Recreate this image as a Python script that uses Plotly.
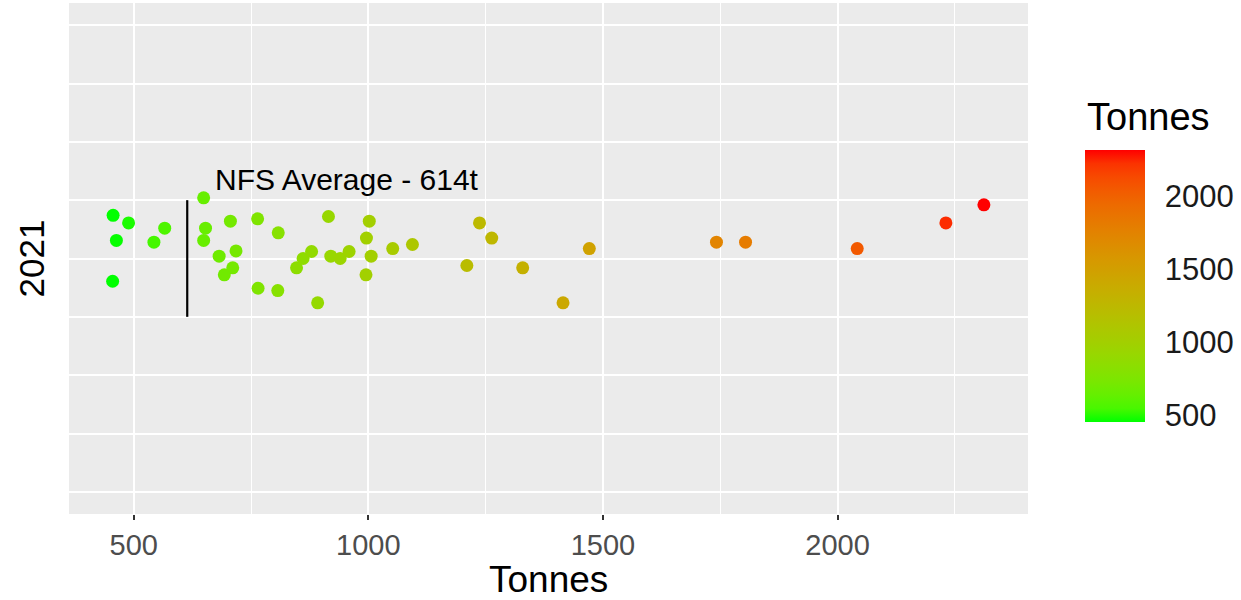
import plotly.graph_objects as go

# ---- data ----
tonnes = [456, 489, 463, 566, 543, 455, 649, 653, 649, 706, 764, 808, 915,
          1002, 996, 1006, 995, 682, 718, 711, 693, 765, 807, 892, 847, 861,
          879, 920, 940, 959, 1052, 1094, 1237, 1263, 1210, 1329, 1415, 1471,
          1742, 1804, 2042, 2231, 2312]
jitter = [0.74, 0.61, 0.31, 0.52, 0.28, -0.39, 1.04, 0.52, 0.31, 0.64, 0.68,
          0.44, 0.72, 0.64, 0.35, 0.04, -0.28, 0.04, 0.13, -0.16, -0.28, -0.51,
          -0.55, -0.76, -0.16, 0.0, 0.12, 0.04, 0.0, 0.12, 0.17, 0.24, 0.61,
          0.35, -0.12, -0.16, -0.76, 0.17, 0.28, 0.28, 0.17, 0.61, 0.92]
year_label = "2021"
nfs_average = 614
avg_line_y = [-1, 1]
annotation_text = "NFS Average - 614t"
x_ticks = [500, 1000, 1500, 2000]
x_minor = [750, 1250, 1750, 2250]
cbar_ticks = [500, 1000, 1500, 2000]


# ---- ggplot-like green->red gradient interpolated in Lab space ----
def _lin(c):
    c = c / 255.0
    return c / 12.92 if c <= 0.04045 else ((c + 0.055) / 1.055) ** 2.4


def _gam(c):
    c = 12.92 * c if c <= 0.0031308 else 1.055 * c ** (1 / 2.4) - 0.055
    return max(0, min(255, round(c * 255)))


WHITE = (0.95047, 1.0, 1.08883)


def rgb_to_lab(rgb):
    r, g, b = [_lin(v) for v in rgb]
    X = 0.4124 * r + 0.3576 * g + 0.1805 * b
    Y = 0.2126 * r + 0.7152 * g + 0.0722 * b
    Z = 0.0193 * r + 0.1192 * g + 0.9505 * b

    def f(t):
        return t ** (1 / 3) if t > 0.008856 else 7.787 * t + 16 / 116

    fx, fy, fz = f(X / WHITE[0]), f(Y / WHITE[1]), f(Z / WHITE[2])
    return (116 * fy - 16, 500 * (fx - fy), 200 * (fy - fz))


def lab_to_rgb(lab):
    L, a, b = lab
    fy = (L + 16) / 116
    fx = fy + a / 500
    fz = fy - b / 200

    def finv(t):
        return t ** 3 if t ** 3 > 0.008856 else (t - 16 / 116) / 7.787

    X, Y, Z = finv(fx) * WHITE[0], finv(fy) * WHITE[1], finv(fz) * WHITE[2]
    r = 3.2406 * X - 1.5372 * Y - 0.4986 * Z
    g = -0.9689 * X + 1.8758 * Y + 0.0415 * Z
    bb = 0.0557 * X - 0.2040 * Y + 1.0570 * Z
    r, g, bb = [min(1, max(0, v)) for v in (r, g, bb)]
    return "rgb(%d,%d,%d)" % (_gam(r), _gam(g), _gam(bb))


low, high = rgb_to_lab((0, 255, 0)), rgb_to_lab((255, 0, 0))
n = 20
colorscale = []
for i in range(n + 1):
    t = i / n
    lab = tuple(low[k] + (high[k] - low[k]) * t for k in range(3))
    colorscale.append([t, lab_to_rgb(lab)])

FONT = "Liberation Sans, Arial, sans-serif"

# ---- layout geometry (pixels) ----
W, H = 1241, 600
ML, MR, MT, MB = 69, 213, 3, 86
PW, PH = W - ML - MR, H - MT - MB
CB_LEFT, CB_TOP, CB_W, CB_H = 1085, 150, 60, 272
cb_x = (CB_LEFT - ML) / PW
cb_y = (H - MB - (CB_TOP + CB_H / 2)) / PH
cmin, cmax = min(tonnes), max(tonnes)

fig = go.Figure()

fig.add_trace(go.Scatter(
    x=[nfs_average, nfs_average], y=avg_line_y, mode="lines",
    line=dict(color="black", width=2.2), hoverinfo="skip", showlegend=False))

fig.add_trace(go.Scatter(
    x=tonnes, y=jitter, mode="markers", showlegend=False,
    marker=dict(
        size=13, color=tonnes, colorscale=colorscale,
        cmin=cmin, cmax=cmax, line=dict(width=0),
        colorbar=dict(
            thickness=CB_W, thicknessmode="pixels",
            len=CB_H, lenmode="pixels",
            x=cb_x, xanchor="left", xpad=0,
            y=cb_y, yanchor="middle", ypad=0,
            outlinewidth=0,
            tickvals=cbar_ticks,
            ticks="outside", ticklen=14, tickcolor="rgba(0,0,0,0)",
            tickfont=dict(family=FONT, size=31, color="#1a1a1a"),
        ),
    ),
    hoverinfo="x"))

# white tick marks inside the colour bar (both edges), positioned from values
for v in cbar_ticks:
    yp = H - MB - (CB_TOP + CB_H * (cmax - v) / (cmax - cmin))
    yy = yp / PH
    for x0, x1 in ((CB_LEFT, CB_LEFT + 10), (CB_LEFT + CB_W - 10, CB_LEFT + CB_W)):
        fig.add_shape(type="line", xref="paper", yref="paper",
                      x0=(x0 - ML) / PW, x1=(x1 - ML) / PW, y0=yy, y1=yy,
                      line=dict(color="rgba(255,255,255,0.7)", width=1))

fig.add_annotation(
    x=668, y=1.35, xref="x", yref="y", text=annotation_text,
    showarrow=False, xanchor="left", yanchor="middle",
    font=dict(family=FONT, size=30, color="black"))

# axis titles and legend title
fig.add_annotation(
    x=0.5, y=-(580 - (H - MB)) / PH, xref="paper", yref="paper",
    text="Tonnes", showarrow=False, xanchor="center", yanchor="middle",
    font=dict(family=FONT, size=37, color="black"))
fig.add_annotation(
    x=-(ML - 31) / PW, y=0.5, xref="paper", yref="paper",
    text=year_label, showarrow=False, textangle=-90,
    xanchor="center", yanchor="middle",
    font=dict(family=FONT, size=35, color="black"))
fig.add_annotation(
    x=cb_x, y=(H - MB - 117) / PH, xref="paper", yref="paper",
    text="Tonnes", showarrow=False, xanchor="left", yanchor="middle",
    font=dict(family=FONT, size=38, color="black"))

fig.update_layout(
    width=W, height=H,
    margin=dict(l=ML, r=MR, t=MT, b=MB, autoexpand=False),
    paper_bgcolor="white", plot_bgcolor="#EBEBEB",
    font=dict(family=FONT),
    xaxis=dict(
        range=[362, 2406], tickvals=x_ticks, showgrid=True,
        gridcolor="white", gridwidth=2, zeroline=False,
        ticks="outside", ticklen=5, tickwidth=2, tickcolor="#333333",
        tickfont=dict(family=FONT, size=29, color="#4D4D4D"),
        minor=dict(tickvals=x_minor, showgrid=True,
                   gridcolor="white", gridwidth=1.2, ticks=""),
        automargin=False, showline=False,
    ),
    yaxis=dict(
        range=[-4.38, 4.38], tick0=0, dtick=1, showgrid=True,
        gridcolor="white", gridwidth=2, zeroline=False,
        showticklabels=False, ticks="", automargin=False,
    ),
)

fig.write_html(
    "out.html",
    config={"displayModeBar": False},
    post_script="document.body.style.margin='0px';document.body.style.overflow='hidden';",
)
